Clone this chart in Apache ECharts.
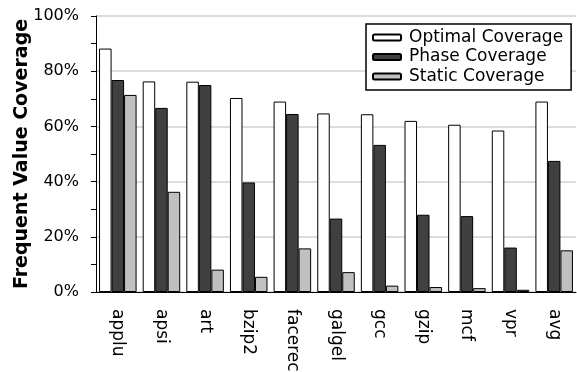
<!DOCTYPE html>
<html><head><meta charset="utf-8">
<script src="https://cdn.jsdelivr.net/npm/echarts@6/dist/echarts.min.js"></script>
<style>html,body{margin:0;padding:0;background:#fff}#c{width:577px;height:372px}</style>
</head><body><div id="c"></div>
<script>
const categories = ['applu','apsi','art','bzip2','facerec','galgel','gcc','gzip','mcf','vpr','avg'];
const optimal = [88.2, 76.3, 76.2, 70.3, 69.0, 64.7, 64.4, 62.0, 60.6, 58.5, 69.0];
const phase   = [76.8, 66.7, 75.0, 39.7, 64.5, 26.6, 53.3, 28.0, 27.5, 16.1, 47.5];
const stat    = [71.4, 36.3, 8.1, 5.5, 15.8, 7.2, 2.3, 1.8, 1.4, 0.8, 15.1];
const yTicks = [0, 20, 40, 60, 80, 100];

const font = '"DejaVu Sans", sans-serif';
const chart = echarts.init(document.getElementById('c'));
function bar(name, data, color) {
  return {
    name, type: 'bar', data, barGap: '0%', barCategoryGap: '14%',
    itemStyle: { color, borderColor: '#000', borderWidth: 1 },
    emphasis: { disabled: true }
  };
}
chart.setOption({
  animation: false,
  textStyle: { fontFamily: font, color: '#000' },
  grid: { left: 96, right: 1, top: 16, bottom: 80, containLabel: false, outerBoundsMode: 'none' },
  legend: {
    orient: 'vertical', left: 366, top: 24,
    backgroundColor: '#fff', borderColor: '#000', borderWidth: 1.5,
    padding: [5, 8, 5, 6], itemGap: 2.5, itemWidth: 28, itemHeight: 6,
    textStyle: { fontSize: 17, fontFamily: font, color: '#000', padding: [0, 0, 0, 3] },
    data: ['Optimal Coverage', 'Phase Coverage', 'Static Coverage']
  },
  xAxis: {
    type: 'category', data: categories,
    axisLine: { lineStyle: { color: '#000', width: 1 } },
    axisTick: { show: false },
    axisLabel: { rotate: -90, fontSize: 17, color: '#000', fontFamily: font, margin: 17 }
  },
  yAxis: {
    type: 'value', min: 0, max: 100, interval: 20,
    name: 'Frequent Value Coverage', nameLocation: 'middle', nameGap: 64, nameMoveOverlap: false,
    nameTextStyle: { fontSize: 19, fontWeight: 'bold', color: '#000', fontFamily: font },
    axisLine: { show: true, lineStyle: { color: '#000', width: 1 } },
    axisTick: { show: true, length: 5, lineStyle: { color: '#000' } },
    minorTick: { show: true, splitNumber: 2, length: 5, lineStyle: { color: '#000' } },
    splitLine: { show: true, lineStyle: { color: '#d0d0d0', width: 1.5 } },
    axisLabel: { fontSize: 16, color: '#000', fontFamily: font, margin: 17,
      formatter: v => yTicks.includes(v) ? v + '%' : '' }
  },
  series: [
    bar('Optimal Coverage', optimal, '#ffffff'),
    bar('Phase Coverage', phase, '#404040'),
    bar('Static Coverage', stat, '#c0c0c0')
  ]
});
</script></body></html>
